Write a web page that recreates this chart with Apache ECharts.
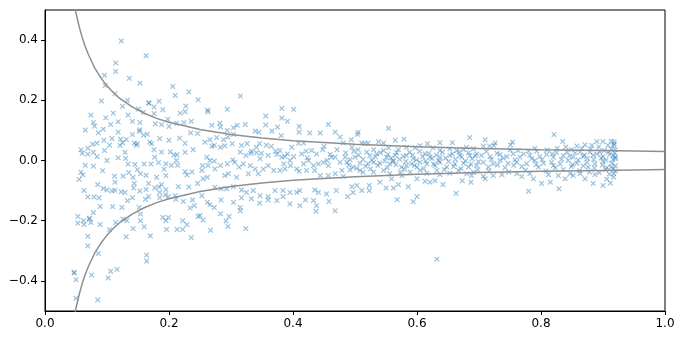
<!DOCTYPE html>
<html>
<head>
<meta charset="utf-8">
<script src="https://cdn.jsdelivr.net/npm/echarts@6/dist/echarts.min.js"></script>
<style>
html, body { margin: 0; padding: 0; background: #fff; }
#chart { width: 684px; height: 338px; }
</style>
</head>
<body>
<div id="chart"></div>
<script>
// funnel limits
const funnelX = [0.047, 0.05, 0.055, 0.06, 0.065, 0.07, 0.08, 0.09, 0.1, 0.11, 0.12, 0.14, 0.16, 0.18, 0.2, 0.25, 0.3, 0.35, 0.4, 0.45, 0.5, 0.6, 0.7, 0.8, 0.9, 1.0]
const funnelUpper = [0.521, 0.490, 0.446, 0.409, 0.378, 0.352, 0.308, 0.275, 0.248, 0.226, 0.207, 0.179, 0.157, 0.140, 0.127, 0.103, 0.086, 0.075, 0.066, 0.060, 0.054, 0.046, 0.040, 0.036, 0.033, 0.030]
const funnelLower = [-0.521, -0.490, -0.446, -0.409, -0.378, -0.352, -0.308, -0.275, -0.248, -0.226, -0.207, -0.179, -0.157, -0.140, -0.127, -0.103, -0.086, -0.075, -0.066, -0.060, -0.054, -0.046, -0.040, -0.036, -0.033, -0.030]

const xTicks = [0, 0.2, 0.4, 0.6, 0.8, 1.0]
const yTicks = [-0.4, -0.2, 0, 0.2, 0.4]

// points outside the funnel, left side
const ptsOuter = [
  [0.123,0.397],[0.163,0.348],[0.114,0.324],[0.114,0.296],[0.096,0.283],[0.136,0.273],[0.153,0.257],[0.097,0.249],
  [0.206,0.246],[0.113,0.222],[0.210,0.216],[0.232,0.228],[0.091,0.198],[0.133,0.200],[0.167,0.192],[0.168,0.190],
  [0.184,0.197],[0.247,0.202],[0.125,0.180],[0.176,0.178],[0.227,0.181],[0.151,0.171],[0.190,0.169],
  [0.315,0.214],[0.294,0.170],[0.262,0.167],[0.382,0.173],[0.401,0.170],
  [0.053,-0.186],[0.053,-0.208],[0.062,-0.200],[0.063,-0.213],[0.071,-0.194],[0.072,-0.192],[0.074,-0.206],[0.078,-0.173],
  [0.089,-0.213],[0.069,-0.252],[0.069,-0.284],[0.086,-0.309],[0.047,-0.374],[0.047,-0.371],[0.050,-0.396],[0.075,-0.380],
  [0.050,-0.458],[0.085,-0.463],[0.102,-0.390],[0.106,-0.368],[0.116,-0.362],[0.114,-0.206],[0.126,-0.194],[0.132,-0.200],
  [0.154,-0.178],[0.154,-0.200],[0.160,-0.220],[0.131,-0.253],[0.142,-0.226],[0.170,-0.250],[0.104,-0.230],[0.164,-0.314],
  [0.164,-0.334],[0.190,-0.189],[0.199,-0.189],[0.195,-0.200],[0.196,-0.229],[0.213,-0.229],[0.222,-0.200],[0.229,-0.213],
  [0.222,-0.229],[0.236,-0.256],[0.247,-0.186],
  [0.250,-0.183],[0.255,-0.198],[0.267,-0.232],[0.283,-0.177],[0.297,-0.186],[0.292,-0.201],[0.295,-0.219],[0.315,-0.167],
  [0.324,-0.226],[0.437,-0.169],[0.468,-0.167]
]

// x 0.05 - 0.25, inside +-0.17
const ptsLeft = [
  [0.074,0.151],[0.098,0.142],[0.110,0.157],[0.134,0.151],[0.159,0.160],[0.176,0.156],[0.198,0.137],[0.218,0.157],
  [0.226,0.162],[0.141,0.130],[0.153,0.126],[0.118,0.129],[0.078,0.126],[0.080,0.114],[0.106,0.120],[0.094,0.104],
  [0.065,0.101],[0.086,0.092],[0.118,0.094],[0.178,0.122],[0.188,0.119],[0.200,0.113],[0.212,0.124],[0.224,0.126],
  [0.236,0.130],[0.153,0.102],[0.152,0.097],[0.159,0.084],[0.141,0.086],[0.131,0.070],[0.122,0.071],[0.108,0.073],
  [0.095,0.067],[0.084,0.058],[0.077,0.054],[0.069,0.041],[0.058,0.036],[0.060,0.024],[0.069,0.021],[0.078,0.027],
  [0.084,0.013],[0.096,0.033],[0.104,0.051],[0.121,0.050],[0.125,0.059],[0.144,0.058],[0.147,0.051],[0.149,0.056],
  [0.169,0.061],[0.172,0.056],[0.165,0.087],[0.185,0.073],[0.200,0.067],[0.217,0.074],[0.226,0.057],[0.235,0.092],
  [0.246,0.090],[0.239,0.036],[0.226,0.027],[0.213,0.019],[0.202,0.029],[0.208,0.018],[0.176,0.036],[0.188,0.028],
  [0.177,0.011],[0.183,-0.007],[0.171,-0.012],[0.160,-0.012],[0.145,-0.013],[0.134,-0.012],[0.118,0.009],[0.130,0.007],
  [0.129,0.027],[0.100,0.000],[0.078,-0.019],[0.065,-0.016],[0.093,-0.034],[0.058,-0.039],[0.061,-0.048],[0.055,-0.063],
  [0.085,-0.080],[0.094,-0.093],[0.100,-0.098],[0.108,-0.101],[0.113,-0.099],[0.123,-0.104],[0.129,-0.106],[0.143,-0.091],
  [0.144,-0.076],[0.153,-0.101],[0.163,-0.096],[0.167,-0.076],[0.177,-0.091],[0.184,-0.088],[0.188,-0.080],[0.185,-0.106],
  [0.195,-0.097],[0.194,-0.114],[0.199,-0.120],[0.210,-0.117],[0.215,-0.087],[0.232,-0.088],[0.246,-0.076],[0.226,-0.037],
  [0.237,-0.038],[0.229,-0.048],[0.214,-0.016],[0.212,0.000],[0.204,-0.016],[0.195,-0.011],[0.192,-0.029],[0.195,-0.050],
  [0.180,-0.056],[0.163,-0.049],[0.154,-0.044],[0.149,-0.030],[0.135,-0.040],[0.126,-0.052],[0.112,-0.052],[0.113,-0.072],
  [0.142,-0.056],[0.063,-0.100],[0.069,-0.121],[0.079,-0.121],[0.087,-0.124],[0.089,-0.153],[0.109,-0.153],[0.133,-0.133],
  [0.141,-0.124],[0.162,-0.129],[0.167,-0.120],[0.185,-0.123],[0.211,-0.129],[0.223,-0.136],[0.238,-0.131],[0.241,-0.150],
  [0.234,-0.158],[0.152,-0.156],[0.124,-0.156]
]

// x 0.25 - 0.47
const ptsMid = [
  [0.263,0.162],[0.269,0.117],[0.282,0.124],[0.283,0.111],[0.294,0.100],[0.304,0.109],[0.310,0.117],[0.323,0.120],
  [0.339,0.098],[0.345,0.094],[0.356,0.148],[0.356,0.118],[0.366,0.098],[0.375,0.111],[0.382,0.141],[0.391,0.130],
  [0.381,0.083],[0.410,0.113],[0.410,0.094],[0.427,0.091],[0.444,0.091],[0.457,0.120],[0.468,0.094],[0.304,0.087],
  [0.295,0.078],[0.288,0.069],[0.277,0.076],[0.266,0.069],[0.258,0.061],[0.273,0.050],[0.269,0.047],[0.283,0.044],
  [0.290,0.049],[0.302,0.056],[0.317,0.050],[0.326,0.056],[0.333,0.031],[0.341,0.044],[0.346,0.056],[0.357,0.051],
  [0.365,0.047],[0.372,0.031],[0.349,0.024],[0.341,0.026],[0.332,0.024],[0.315,0.028],[0.324,0.017],[0.347,0.006],
  [0.360,0.017],[0.374,0.020],[0.382,0.011],[0.387,0.014],[0.391,0.022],[0.401,0.013],[0.414,0.022],[0.421,0.031],
  [0.423,0.009],[0.430,0.033],[0.438,0.022],[0.450,0.047],[0.448,0.036],[0.460,0.020],[0.455,0.000],[0.468,0.011],
  [0.471,0.036],[0.409,0.057],[0.417,0.058],[0.398,0.044],[0.379,0.033],[0.261,0.011],[0.266,0.000],[0.273,-0.002],
  [0.254,-0.017],[0.253,-0.033],[0.263,-0.017],[0.274,-0.028],[0.283,-0.017],[0.294,-0.011],[0.303,0.002],[0.306,-0.006],
  [0.313,-0.022],[0.320,-0.011],[0.331,-0.017],[0.339,-0.028],[0.344,-0.044],[0.352,-0.029],[0.360,-0.017],[0.369,-0.033],
  [0.379,-0.033],[0.385,-0.011],[0.387,-0.028],[0.395,0.000],[0.396,-0.017],[0.406,-0.028],[0.410,-0.036],[0.417,-0.011],
  [0.425,0.000],[0.433,-0.017],[0.441,-0.011],[0.449,-0.006],[0.457,-0.017],[0.462,0.011],[0.422,-0.033],[0.435,-0.033],
  [0.444,-0.050],[0.457,-0.050],[0.468,-0.044],[0.296,-0.044],[0.290,-0.050],[0.309,-0.056],[0.328,-0.044],[0.262,-0.056],
  [0.255,-0.061],[0.253,-0.117],[0.274,-0.089],[0.284,-0.094],[0.293,-0.094],[0.304,-0.087],[0.317,-0.098],[0.325,-0.106],
  [0.336,-0.100],[0.347,-0.117],[0.360,-0.120],[0.371,-0.100],[0.384,-0.100],[0.395,-0.106],[0.406,-0.106],[0.411,-0.100],
  [0.420,-0.131],[0.435,-0.098],[0.441,-0.106],[0.454,-0.111],[0.470,-0.100],[0.262,-0.139],[0.273,-0.156],[0.284,-0.131],
  [0.304,-0.139],[0.315,-0.156],[0.346,-0.142],[0.360,-0.131],[0.374,-0.133],[0.384,-0.120],[0.395,-0.144],[0.411,-0.150],
  [0.433,-0.133],[0.438,-0.150],[0.458,-0.136],[0.317,-0.124],[0.333,-0.127],[0.266,-0.147]
]

// x 0.47 - 0.70
const ptsRight = [
  [0.476,0.078],[0.504,0.087],[0.505,0.094],[0.554,0.107],[0.494,0.069],[0.481,0.058],[0.511,0.058],[0.516,0.056],
  [0.521,0.058],[0.538,0.063],[0.546,0.058],[0.565,0.067],[0.579,0.071],[0.605,0.049],[0.617,0.056],[0.637,0.059],
  [0.657,0.059],[0.685,0.076],[0.680,0.044],[0.495,0.044],[0.505,0.036],[0.530,0.036],[0.546,0.033],[0.554,0.042],
  [0.570,0.036],[0.583,0.044],[0.597,0.042],[0.626,0.042],[0.637,0.033],[0.653,0.039],[0.664,0.033],[0.675,0.036],
  [0.691,0.039],[0.524,0.017],[0.535,0.022],[0.551,0.011],[0.565,0.017],[0.583,0.017],[0.594,0.006],[0.613,0.022],
  [0.621,0.011],[0.637,0.011],[0.653,0.017],[0.669,0.017],[0.685,0.017],[0.696,0.022],[0.484,0.011],[0.500,0.011],
  [0.488,-0.120],[0.497,-0.106],[0.495,-0.087],[0.503,-0.083],[0.511,-0.100],[0.523,-0.083],[0.523,-0.100],[0.540,-0.072],
  [0.550,-0.091],[0.562,-0.091],[0.570,-0.080],[0.568,-0.130],[0.586,-0.087],[0.594,-0.137],[0.600,-0.120],[0.613,-0.069],
  [0.621,-0.072],[0.629,-0.067],[0.642,-0.080],[0.663,-0.109],[0.673,-0.067],[0.687,-0.072],[0.688,-0.050],[0.632,-0.328],
  [0.576,-0.050],[0.559,-0.061],[0.481,-0.053],[0.508,-0.033],[0.600,-0.061],
  [0.476,-0.006],[0.487,-0.006],[0.497,-0.022],[0.508,-0.009],[0.521,-0.011],[0.530,-0.006],[0.540,-0.009],[0.556,-0.011],
  [0.562,0.000],[0.575,-0.022],[0.583,-0.017],[0.591,-0.011],[0.600,-0.022],[0.605,-0.006],[0.616,-0.011],[0.629,-0.017],
  [0.637,-0.006],[0.648,-0.022],[0.661,-0.011],[0.675,-0.009],[0.683,-0.022],[0.696,-0.017],[0.479,-0.033],[0.492,-0.031],
  [0.513,-0.039],[0.530,-0.039],[0.546,-0.033],[0.556,-0.044],[0.573,-0.039],[0.589,-0.039],[0.605,-0.033],[0.616,-0.042],
  [0.632,-0.033],[0.637,-0.047],[0.653,-0.042],[0.667,-0.033],[0.680,-0.044],[0.691,-0.039],
  [0.485,0.025],[0.492,0.003],[0.498,0.030],[0.506,0.018],[0.513,0.004],[0.519,0.028],[0.527,0.001],[0.533,0.012],
  [0.541,0.026],[0.548,-0.002],[0.553,0.020],[0.558,0.008],[0.561,-0.004],[0.567,0.026],[0.572,0.004],[0.578,0.014],
  [0.582,-0.003],[0.588,0.027],[0.593,0.018],[0.599,0.002],[0.604,0.030],[0.609,0.013],[0.614,-0.002],[0.619,0.024],
  [0.624,0.007],[0.631,0.018],[0.635,0.000],[0.641,0.027],[0.646,0.008],[0.651,-0.003],[0.657,0.022],[0.662,0.004],
  [0.668,0.028],[0.672,0.012],[0.678,-0.002],[0.683,0.026],[0.689,0.006],[0.694,0.015],[0.699,-0.004],
  [0.490,-0.015],[0.503,-0.026],[0.517,-0.019],[0.525,-0.028],[0.537,-0.016],[0.552,-0.024],[0.566,-0.014],[0.580,-0.030],
  [0.596,-0.016],[0.611,-0.027],[0.627,-0.012],[0.644,-0.030],[0.659,-0.020],[0.671,-0.027],[0.687,-0.012],[0.698,-0.031]
]

// x 0.70 - 0.92
const ptsFar = [
  [0.710,0.069],[0.707,0.048],[0.717,0.048],[0.726,0.058],[0.724,0.050],[0.751,0.052],[0.754,0.061],[0.821,0.086],
  [0.835,0.063],[0.858,0.048],[0.871,0.052],[0.882,0.050],[0.890,0.063],[0.900,0.063],[0.913,0.064],[0.918,0.063],
  [0.917,0.050],[0.763,0.033],[0.780,0.031],[0.793,0.031],[0.825,0.026],[0.842,0.028],[0.849,0.036],[0.863,0.028],
  [0.879,0.028],[0.895,0.028],[0.909,0.028],[0.920,0.036],[0.704,0.017],[0.718,0.013],[0.734,0.020],[0.745,0.013],
  [0.755,0.022],[0.766,0.011],[0.782,0.017],[0.798,0.013],[0.809,0.020],[0.820,0.011],[0.836,0.017],[0.852,0.011],
  [0.868,0.013],[0.884,0.017],[0.900,0.013],[0.917,0.017],[0.920,0.006],
  [0.707,-0.006],[0.723,-0.011],[0.734,0.000],[0.747,-0.009],[0.761,-0.006],[0.777,-0.011],[0.790,0.000],[0.804,-0.009],
  [0.817,-0.006],[0.831,-0.011],[0.844,0.000],[0.858,-0.009],[0.874,-0.006],[0.887,-0.011],[0.900,-0.003],[0.914,-0.009],
  [0.920,-0.017],[0.715,-0.022],[0.742,-0.024],[0.769,-0.020],[0.796,-0.022],[0.823,-0.024],[0.849,-0.020],[0.876,-0.022],
  [0.906,-0.024],[0.917,-0.028],[0.707,-0.053],[0.723,-0.050],[0.737,-0.047],[0.710,-0.061],[0.761,-0.044],[0.769,-0.053],
  [0.782,-0.044],[0.788,-0.061],[0.801,-0.076],[0.815,-0.072],[0.780,-0.102],[0.829,-0.094],[0.812,-0.047],[0.828,-0.050],
  [0.839,-0.061],[0.852,-0.050],[0.863,-0.044],[0.871,-0.061],[0.887,-0.047],[0.884,-0.076],[0.900,-0.083],[0.917,-0.044],
  [0.847,-0.044],
  [0.712,0.030],[0.720,0.004],[0.729,0.024],[0.739,0.008],[0.750,0.035],[0.758,0.002],[0.772,0.022],[0.785,0.006],
  [0.790,0.040],[0.802,0.003],[0.810,0.035],[0.818,0.022],[0.826,0.040],[0.833,0.004],[0.840,0.045],[0.846,0.015],
  [0.855,0.025],[0.860,0.002],[0.866,0.040],[0.870,0.018],[0.875,0.007],[0.880,0.038],[0.885,0.003],[0.890,0.022],
  [0.893,0.045],[0.897,0.008],[0.902,0.033],[0.905,0.001],[0.908,0.050],[0.911,0.020],[0.914,0.038],[0.916,0.004],
  [0.918,0.055],[0.919,0.025],[0.920,0.011],
  [0.716,-0.035],[0.730,-0.015],[0.748,-0.038],[0.756,-0.016],[0.775,-0.032],[0.792,-0.013],[0.808,-0.035],[0.820,-0.017],
  [0.836,-0.030],[0.851,-0.014],[0.862,-0.034],[0.868,-0.018],[0.878,-0.038],[0.886,-0.025],[0.894,-0.040],[0.899,-0.015],
  [0.904,-0.030],[0.910,-0.045],[0.913,-0.022],[0.917,-0.055],[0.920,-0.035],[0.906,-0.062],[0.912,-0.075]
]

const allPts = ptsOuter.concat(ptsLeft, ptsMid, ptsRight, ptsFar)

// matplotlib-like 'x' marker
const xMarker = 'path://M0,1.6L1.6,0L5,3.4L8.4,0L10,1.6L6.6,5L10,8.4L8.4,10L5,6.6L1.6,10L0,8.4L3.4,5Z'

const fmt = v => (Math.abs(v) < 1e-9 ? '0.0' : v.toFixed(1).replace('-', '\u2212'))
const labelStyle = { color: '#000', fontFamily: 'DejaVu Sans', fontSize: 12 }

const chart = echarts.init(document.getElementById('chart'), null, { renderer: 'canvas' })
chart.setOption({
  animation: false,
  backgroundColor: '#fff',
  grid: {
    left: 45, top: 10, width: 620, height: 301,
    show: true, borderColor: '#000', borderWidth: 1, backgroundColor: 'transparent'
  },
  xAxis: {
    type: 'value', min: 0, max: 1, interval: 0.2,
    axisLine: { show: true, onZero: false, lineStyle: { color: '#000', width: 1 } },
    axisTick: { show: true, inside: false, length: 4, lineStyle: { color: '#000' } },
    axisLabel: Object.assign({ margin: 7, formatter: fmt, customValues: xTicks }, labelStyle),
    splitLine: { show: false }
  },
  yAxis: {
    type: 'value', min: -0.5, max: 0.5,
    axisLine: { show: true, onZero: false, lineStyle: { color: '#000', width: 1 } },
    axisTick: { show: true, inside: false, length: 4, customValues: yTicks, lineStyle: { color: '#000' } },
    axisLabel: Object.assign({ margin: 7, formatter: fmt, customValues: yTicks }, labelStyle),
    splitLine: { show: false }
  },
  series: [
    {
      type: 'scatter',
      data: allPts,
      symbol: xMarker,
      symbolSize: 5.5,
      itemStyle: { color: 'rgba(31,119,180,0.55)' },
      silent: true
    },
    {
      type: 'line',
      data: funnelX.map((x, i) => [x, funnelUpper[i]]),
      showSymbol: false,
      clip: true,
      lineStyle: { color: '#8f8f8f', width: 1.5 },
      silent: true
    },
    {
      type: 'line',
      data: funnelX.map((x, i) => [x, funnelLower[i]]),
      showSymbol: false,
      clip: true,
      lineStyle: { color: '#8f8f8f', width: 1.5 },
      silent: true
    }
  ]
})
</script>
</body>
</html>
